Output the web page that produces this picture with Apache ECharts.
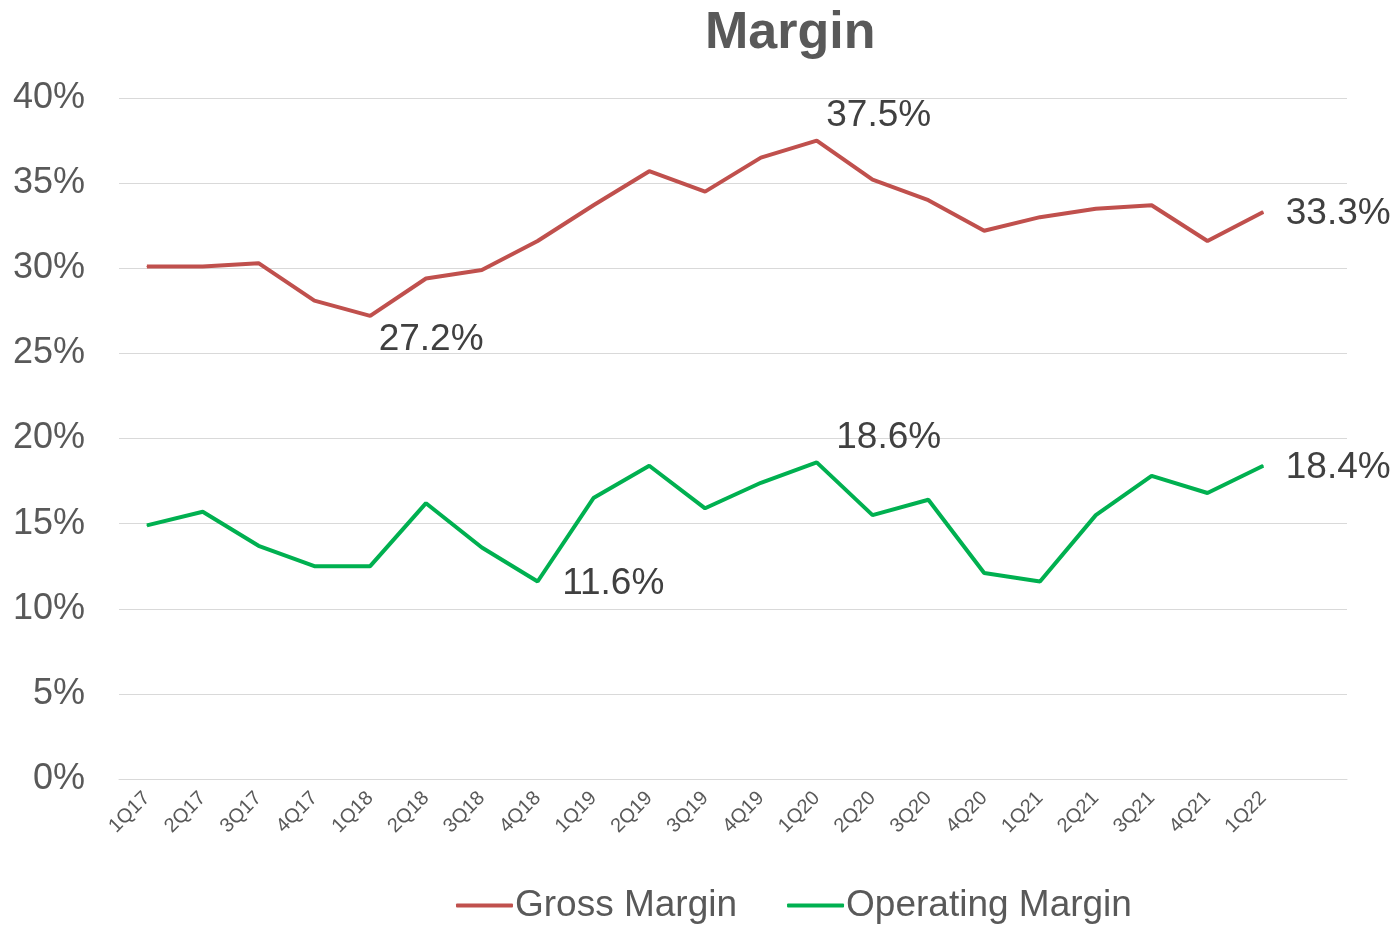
<!DOCTYPE html>
<html>
<head>
<meta charset="utf-8">
<title>Margin</title>
<script src="https://cdn.jsdelivr.net/npm/echarts@6/dist/echarts.min.js"></script>
<style>
  html, body { margin: 0; padding: 0; background: #fff; }
  #chart { width: 1400px; height: 929px; }
</style>
</head>
<body>
<div id="chart"></div>
<script>
// quarters (extra blank slot at the end, like the source chart)
const quarters = ["1Q17", "2Q17", "3Q17", "4Q17", "1Q18", "2Q18", "3Q18", "4Q18",
  "1Q19", "2Q19", "3Q19", "4Q19", "1Q20", "2Q20", "3Q20", "4Q20",
  "1Q21", "2Q21", "3Q21", "4Q21", "1Q22", ""];

const grossMargin = [30.1, 30.1, 30.3, 28.1, 27.2, 29.4, 29.9, 31.6,
  33.7, 35.7, 34.5, 36.5, 37.5, 35.2, 34.0, 32.2,
  33.0, 33.5, 33.7, 31.6, 33.3];

const operatingMargin = [14.9, 15.7, 13.7, 12.5, 12.5, 16.2, 13.6, 11.6,
  16.5, 18.4, 15.9, 17.4, 18.6, 15.5, 16.4, 12.1,
  11.6, 15.5, 17.8, 16.8, 18.4];

// which points get a value label: index -> [distance, dy]
const grossLabels = { 4: [8, 24], 12: [9, -25], 20: [22, 2] };
const opLabels = { 7: [24, 2], 12: [19, -25], 20: [22, 2] };

const yTicks = [0, 5, 10, 15, 20, 25, 30, 35, 40];

const FONT = "Liberation Sans, Arial, sans-serif";

/* =========================================
   helpers
   ========================================= */
function withLabels(values, labels) {
  return values.map((v, i) => {
    const l = labels[i];
    if (!l) return v;
    return {
      value: v,
      label: {
        show: true,
        position: "right",
        distance: l[0],
        offset: [0, l[1]],
        formatter: (p) => p.value.toFixed(1) + "%",
        color: "#404040",
        fontSize: 37,
        fontFamily: FONT,
      },
    };
  });
}

function initChart() {
  const dom = document.getElementById("chart");
  const chart = echarts.init(dom, null, { renderer: "canvas" });

  const option = {
    backgroundColor: "#ffffff",
    animation: false,
    textStyle: { fontFamily: FONT },
    title: {
      text: "Margin",
      left: 700,
      top: 3,
      textStyle: {
        color: "#595959",
        fontSize: 52,
        fontWeight: "bold",
        fontFamily: FONT,
      },
    },
    grid: { left: 119, right: 53, top: 98, bottom: 150, containLabel: false },
    legend: {
      bottom: 0,
      left: 451,
      itemWidth: 57,
      itemHeight: 4,
      itemGap: 50,
      icon: "roundRect",
      textStyle: { color: "#595959", fontSize: 37, padding: [0, 0, 0, -3] },
      data: ["Gross Margin", "Operating Margin"],
    },
    xAxis: {
      type: "category",
      data: quarters,
      boundaryGap: true,
      axisLine: { lineStyle: { color: "#d9d9d9", width: 1 } },
      axisTick: { show: false },
      axisLabel: {
        rotate: 45,
        interval: 0,
        color: "#595959",
        fontSize: 20,
        margin: 16,
      },
    },
    yAxis: {
      type: "value",
      min: 0,
      max: 40,
      interval: 5,
      axisLine: { show: false },
      axisTick: { show: false },
      splitLine: { lineStyle: { color: "#d9d9d9", width: 1 } },
      axisLabel: {
        color: "#595959",
        fontSize: 36,
        margin: 34,
        padding: [6, 0, 0, 0],
        formatter: (v) => (yTicks.includes(v) ? v + "%" : ""),
      },
    },
    series: [
      {
        name: "Gross Margin",
        type: "line",
        data: withLabels(grossMargin, grossLabels),
        symbol: "circle",
        symbolSize: 1,
        lineStyle: { color: "#C0504D", width: 4 },
        itemStyle: { color: "#C0504D" },
      },
      {
        name: "Operating Margin",
        type: "line",
        data: withLabels(operatingMargin, opLabels),
        symbol: "circle",
        symbolSize: 1,
        lineStyle: { color: "#00B050", width: 4 },
        itemStyle: { color: "#00B050" },
      },
    ],
  };

  chart.setOption(option);
  window.addEventListener("resize", () => chart.resize());
}

document.addEventListener("DOMContentLoaded", initChart);
</script>
</body>
</html>
